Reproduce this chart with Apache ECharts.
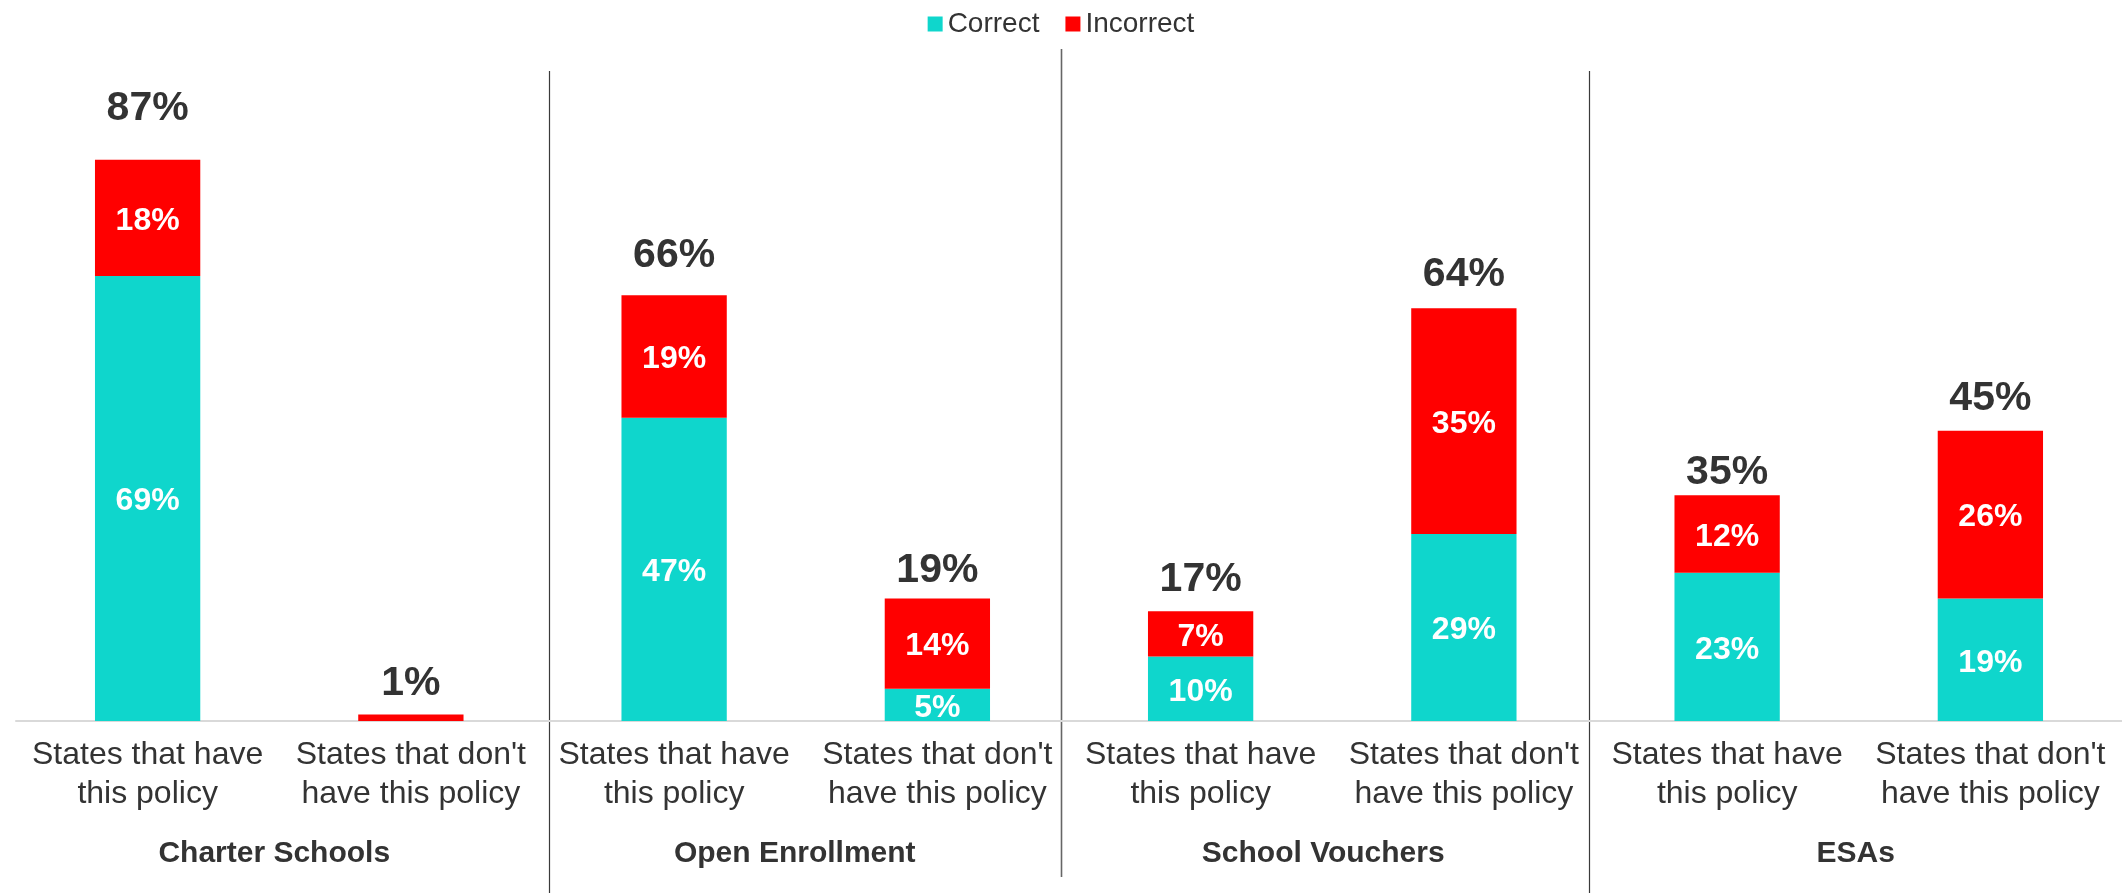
<!DOCTYPE html>
<html>
<head>
<meta charset="utf-8">
<title>State policy awareness</title>
<script src="https://cdn.jsdelivr.net/npm/echarts@6/dist/echarts.min.js"></script>
<style>
  html, body { margin: 0; padding: 0; background: #ffffff; }
  #chart { width: 2122px; height: 893px; }
</style>
</head>
<body>
<div id="chart"></div>
<script>
// Policy groups and the two bars drawn inside each group
const groups = ['Charter Schools', 'Open Enrollment', 'School Vouchers', 'ESAs'];
const barLabels = ['States that have\nthis policy', "States that don't\nhave this policy"];
const categories = groups.flatMap(() => barLabels);

// Share of respondents (%) per bar, two bars per policy group
const correct   = [69, 0, 47, 5, 10, 29, 23, 19];
const incorrect = [18, 1, 19, 14, 7, 35, 12, 26];
const totals    = [87, 1, 66, 19, 17, 64, 35, 45];

const FONT = "'Liberation Sans', Arial, Helvetica, sans-serif";
const TEXT = '#333333';
const TEAL = '#0fd6cc';
const RED = '#ff0000';

// Gap (px) between each bar top and its total label
const totalLabelGap = [30, 10, 19, 7, 11, 13, 2, 11];
// Left nudge (px) for each group caption
const groupNudge = [10, 22, 18, 6];

// Divider styling: pixel nudges relative to the group boundaries and vertical extent
const dividerStyle = [
  { dx: 6,  top: 71, bottom: 893, stroke: '#3a3a3a', width: 1.2 },
  { dx: -8, top: 49, bottom: 877, stroke: '#666666', width: 1.6 },
  { dx: -7, top: 71, bottom: 893, stroke: '#3a3a3a', width: 1.2 }
];

const chart = echarts.init(document.getElementById('chart'), null, { renderer: 'canvas' });

const insideLabel = {
  show: true,
  position: 'inside',
  offset: [0, 3],
  color: '#ffffff',
  fontFamily: FONT,
  fontWeight: 'bold',
  fontSize: 32,
  formatter: p => (p.value >= 2 ? p.value + '%' : '')
};

const groupRich = {};
groupNudge.forEach((n, i) => {
  groupRich['g' + i] = {
    color: TEXT,
    fontFamily: FONT,
    fontWeight: 'bold',
    fontSize: 30,
    padding: [0, n, 0, 0]
  };
});

const totalData = totals.map((v, i) => ({
  value: v,
  label: { distance: totalLabelGap[i] }
}));

const option = {
  backgroundColor: '#ffffff',
  animation: false,
  textStyle: { fontFamily: FONT },
  legend: {
    data: ['Correct', 'Incorrect'],
    top: 5,
    left: 'center',
    icon: 'rect',
    itemWidth: 15,
    itemHeight: 15,
    itemGap: 26,
    textStyle: { fontFamily: FONT, fontSize: 28, color: TEXT }
  },
  grid: { left: 16, right: 0, top: 76, bottom: 172, containLabel: false },
  xAxis: [
    {
      type: 'category',
      data: categories,
      axisLine: { show: true, lineStyle: { color: '#d9d9d9', width: 2 } },
      axisTick: { show: false },
      axisLabel: {
        interval: 0,
        margin: 15,
        color: TEXT,
        fontFamily: FONT,
        fontSize: 32,
        lineHeight: 39
      }
    },
    {
      type: 'category',
      data: groups,
      position: 'bottom',
      offset: 100,
      axisLine: { show: false },
      axisTick: { show: false },
      axisLabel: {
        interval: 0,
        margin: 18,
        formatter: (v, i) => '{g' + i + '|' + v + '}',
        rich: groupRich
      }
    }
  ],
  yAxis: { type: 'value', min: 0, max: 100, show: false },
  series: [
    {
      name: 'Correct',
      type: 'bar',
      stack: 'share',
      barWidth: '40%',
      data: correct,
      itemStyle: { color: TEAL },
      label: insideLabel
    },
    {
      name: 'Incorrect',
      type: 'bar',
      stack: 'share',
      barWidth: '40%',
      data: incorrect,
      itemStyle: { color: RED },
      label: insideLabel
    },
    {
      name: 'Total',
      type: 'line',
      data: totalData,
      symbol: 'circle',
      symbolSize: 1,
      showSymbol: true,
      lineStyle: { opacity: 0 },
      itemStyle: { color: 'rgba(0,0,0,0)' },
      silent: true,
      z: 5,
      label: {
        show: true,
        position: 'top',
        color: TEXT,
        fontFamily: FONT,
        fontWeight: 'bold',
        fontSize: 41,
        formatter: p => p.value + '%'
      }
    }
  ]
};

chart.setOption(option);

// Vertical dividers between policy groups, placed at the category boundaries
const dividers = dividerStyle.map((d, i) => {
  const left = chart.convertToPixel({ xAxisIndex: 0 }, i * 2 + 1);
  const right = chart.convertToPixel({ xAxisIndex: 0 }, i * 2 + 2);
  const x = Math.round((left + right) / 2 + d.dx) + 0.5;
  return {
    type: 'line',
    silent: true,
    shape: { x1: x, y1: d.top, x2: x, y2: d.bottom },
    style: { stroke: d.stroke, lineWidth: d.width }
  };
});
chart.setOption({ graphic: dividers });
</script>
</body>
</html>
